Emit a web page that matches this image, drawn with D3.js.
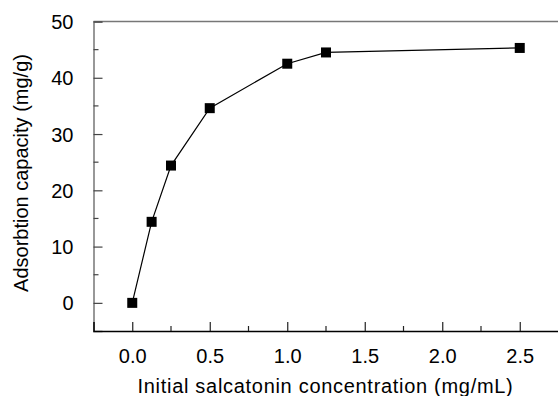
<!DOCTYPE html>
<html>
<head>
<meta charset="utf-8">
<script src="https://cdn.jsdelivr.net/npm/d3@7"></script>
<style>
  body { margin: 0; background: #fff; }
  text { font-family: "Liberation Sans", Arial, sans-serif; fill: #000; }
</style>
</head>
<body>
<div id="chart"></div>
<script>
// data
const concentration = [0, 0.125, 0.25, 0.5, 1.0, 1.25, 2.5]
const capacity = [0, 14.4, 24.4, 34.6, 42.5, 44.5, 45.3]
const xTicks = [0, 0.5, 1.0, 1.5, 2.0, 2.5]
const xMinor = [0.25, 0.75, 1.25, 1.75, 2.25]
const yTicks = [0, 10, 20, 30, 40, 50]
const yMinor = [5, 15, 25, 35, 45]

const W = 558, H = 396
const margin = {top: 21.5, right: 0, bottom: 65, left: 93.5}

const svg = d3.select("#chart").append("svg")
  .attr("width", W)
  .attr("height", H)

const x = d3.scaleLinear().domain([-0.25, 2.75]).range([margin.left, margin.left + 465])
const y = d3.scaleLinear().domain([-5, 50]).range([331, margin.top])

// top border (grey)
svg.append("line")
  .attr("x1", margin.left).attr("x2", W)
  .attr("y1", y(50)).attr("y2", y(50))
  .attr("stroke", "#777").attr("stroke-width", 1.5)

// Y axis, ticks inward
const yAxis = svg.append("g")
  .attr("transform", "translate(" + margin.left + ",0)")
  .call(d3.axisLeft(y).tickValues(yTicks).tickSize(-9).tickPadding(20).tickFormat(d3.format("d")))
yAxis.select(".domain").attr("stroke", "#777").attr("stroke-width", 1.5)
yAxis.selectAll(".tick line").attr("stroke", "#444").attr("stroke-width", 1.2)
yAxis.selectAll("text").attr("font-size", 20).attr("dy", "0.35em")
yAxis.append("g").selectAll("line").data(yMinor).enter().append("line")
  .attr("x1", 0).attr("x2", 5)
  .attr("y1", d => y(d)).attr("y2", d => y(d))
  .attr("stroke", "#444").attr("stroke-width", 1.2)

// X axis, ticks inward
const xAxis = svg.append("g")
  .attr("transform", "translate(0," + y(-5) + ")")
  .call(d3.axisBottom(x).tickValues(xTicks).tickSize(-9).tickPadding(18).tickFormat(d3.format(".1f")))
xAxis.select(".domain").attr("stroke", "#000").attr("stroke-width", 1.5)
xAxis.selectAll(".tick line").attr("stroke", "#222").attr("stroke-width", 1.2)
xAxis.selectAll("text").attr("font-size", 20)
xAxis.append("g").selectAll("line").data(xMinor).enter().append("line")
  .attr("x1", d => x(d)).attr("x2", d => x(d))
  .attr("y1", 0).attr("y2", -5)
  .attr("stroke", "#222").attr("stroke-width", 1.2)

// axis titles
svg.append("text")
  .attr("x", 325.5).attr("y", 393)
  .attr("text-anchor", "middle")
  .attr("font-size", 20)
  .attr("letter-spacing", "0.7px")
  .text("Initial salcatonin concentration (mg/mL)")

svg.append("text")
  .attr("transform", "translate(28," + 173 + ") rotate(-90)")
  .attr("text-anchor", "middle")
  .attr("font-size", 20)
  .text("Adsorbtion capacity (mg/g)")

// line + square markers
const pts = concentration.map((c, i) => ({c: c, v: capacity[i]}))
const line = d3.line().x(d => x(d.c)).y(d => y(d.v))

svg.append("path")
  .datum(pts)
  .attr("fill", "none")
  .attr("stroke", "#000")
  .attr("stroke-width", 1.2)
  .attr("d", line)

svg.selectAll("rect.pt")
  .data(pts)
  .enter()
  .append("rect")
  .attr("class", "pt")
  .attr("x", d => x(d.c) - 5)
  .attr("y", d => y(d.v) - 5)
  .attr("width", 10)
  .attr("height", 10)
  .attr("fill", "#000")
</script>
</body>
</html>
